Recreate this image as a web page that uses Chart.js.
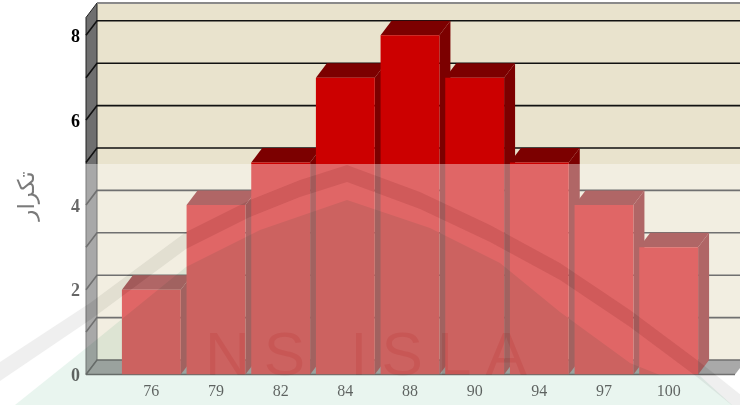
<!DOCTYPE html>
<html>
<head>
<meta charset="utf-8">
<script src="https://cdn.jsdelivr.net/npm/chart.js@4/dist/chart.umd.js"></script>
<style>
  html, body { margin: 0; padding: 0; background: #fff; }
  canvas { display: block; }
</style>
</head>
<body>
<canvas id="chart" width="740" height="405"></canvas>
<script>
const categories = ['76', '79', '82', '84', '88', '90', '94', '97', '100'];
const frequency = [2, 4, 5, 7, 8, 7, 5, 4, 3];
const yTicks = [0, 2, 4, 6, 8];
const yGridLines = [1, 2, 3, 4, 5, 6, 7, 8];
const yTitle = 'تكرار';

// depth of the fake 3d box
const dx = 11;
const dy = 14.5;
const boxLeft = 86;
const boxRight = 735;

function poly(ctx, pts, fill, stroke, lw) {
    ctx.beginPath();
    pts.forEach((p, i) => i ? ctx.lineTo(p[0], p[1]) : ctx.moveTo(p[0], p[1]));
    ctx.closePath();
    if (fill) { ctx.fillStyle = fill; ctx.fill(); }
    if (stroke) { ctx.strokeStyle = stroke; ctx.lineWidth = lw || 1; ctx.stroke(); }
}

// walls, floor, grid and the side/top faces of the bars
const box3d = {
    id: 'box3d',
    beforeDraw(chart) {
        // multiply below needs an opaque page under it
        chart.ctx.fillStyle = '#fff';
        chart.ctx.fillRect(0, 0, chart.width, chart.height);
    },
    beforeDatasetsDraw(chart) {
        const ctx = chart.ctx;
        const y = chart.scales.y;
        const base = y.getPixelForValue(0);
        const top = chart.chartArea.top;
        ctx.save();
        poly(ctx, [[boxLeft + dx, top - dy], [760, top - dy], [760, base - dy], [boxLeft + dx, base - dy]], '#e9e3cd');
        poly(ctx, [[boxLeft, top], [boxLeft + dx, top - dy], [boxLeft + dx, base - dy], [boxLeft, base]], '#6f6f6f', '#222', 1);
        poly(ctx, [[boxLeft, base], [boxLeft + dx, base - dy], [boxRight + dx, base - dy], [boxRight, base]], '#707070');

        ctx.strokeStyle = '#8a8a8a';
        ctx.lineWidth = 2;
        ctx.beginPath();
        ctx.moveTo(boxLeft + dx, top - dy);
        ctx.lineTo(760, top - dy);
        ctx.stroke();

        ctx.strokeStyle = '#111';
        ctx.lineWidth = 1.6;
        yGridLines.forEach(v => {
            const py = y.getPixelForValue(v);
            ctx.beginPath();
            ctx.moveTo(boxLeft, py);
            ctx.lineTo(boxLeft + dx, py - dy);
            ctx.lineTo(760, py - dy);
            ctx.stroke();
        });
        ctx.beginPath();
        ctx.moveTo(boxLeft, base);
        ctx.lineTo(boxLeft + dx, base - dy);
        ctx.lineTo(760, base - dy);
        ctx.stroke();
        ctx.beginPath();
        ctx.moveTo(boxLeft, base);
        ctx.lineTo(boxRight, base);
        ctx.stroke();

        chart.getDatasetMeta(0).data.forEach(bar => {
            const l = bar.x - bar.width / 2;
            const r = bar.x + bar.width / 2;
            poly(ctx, [[r, bar.y], [r + dx, bar.y - dy], [r + dx, base - dy], [r, base]], '#7c0000');
            poly(ctx, [[l, bar.y], [l + dx, bar.y - dy], [r + dx, bar.y - dy], [r, bar.y]], '#7c0000');
        });
        ctx.restore();
    }
};

// the page watermark that sits over the lower part of the picture
const watermark = {
    id: 'watermark',
    afterDraw(chart) {
        const ctx = chart.ctx;
        ctx.save();
        ctx.fillStyle = 'rgba(255,255,255,0.4)';
        ctx.fillRect(0, 164, 740, 241);

        const band = [[0, 362], [90, 303], [186, 232], [250, 200], [300, 180], [347, 165], [420, 192], [490, 225],
                      [560, 263], [630, 310], [697, 360], [760, 410], [760, 428], [697, 377], [630, 327], [560, 280],
                      [490, 242], [420, 209], [347, 182], [300, 197], [250, 217], [186, 249], [90, 320], [0, 381]];
        ctx.globalCompositeOperation = 'multiply';
        poly(ctx, band, 'rgb(240,240,240)');
        ctx.globalCompositeOperation = 'color-burn';
        poly(ctx, band, 'rgb(246,246,246)');

        ctx.globalCompositeOperation = 'multiply';
        poly(ctx, [[15, 405], [90, 345], [186, 267], [260, 230], [347, 200], [430, 228], [500, 263], [560, 312],
                   [630, 363], [660, 375], [700, 376], [732, 405]], 'rgb(233,245,239)');

        ctx.fillStyle = 'rgb(250,226,226)';
        ctx.font = '62px "Liberation Sans"';
        ctx.letterSpacing = '14px';
        ctx.textBaseline = 'alphabetic';
        ctx.fillText('NS ISLA', 205, 375);
        ctx.restore();
    }
};

new Chart(document.getElementById('chart'), {
    type: 'bar',
    data: {
        labels: categories,
        datasets: [{
            data: frequency,
            backgroundColor: '#cc0000',
            borderWidth: 0,
            categoryPercentage: 1,
            barPercentage: 0.91
        }]
    },
    plugins: [box3d, watermark],
    options: {
        responsive: false,
        animation: false,
        layout: { padding: { top: 17.5, right: 39 } },
        plugins: { legend: { display: false }, tooltip: { enabled: false } },
        scales: {
            x: {
                grid: { display: false },
                border: { display: false },
                afterFit(scale) { scale.height = 30.5; scale.paddingLeft = 0; scale.paddingRight = 0; },
                ticks: {
                    padding: 0,
                    maxRotation: 0,
                    color: '#000',
                    font: { family: '"Liberation Serif"', size: 16 }
                }
            },
            y: {
                min: 0,
                max: 8.42,
                grid: { display: false, drawTicks: false },
                border: { display: false },
                afterFit(scale) { scale.width = 119; scale.paddingTop = 0; scale.paddingBottom = 0; },
                afterBuildTicks(scale) { scale.ticks = yTicks.map(v => ({ value: v })); },
                title: {
                    display: true,
                    text: yTitle,
                    color: '#222',
                    padding: { top: 14, bottom: 0 },
                    font: { family: '"DejaVu Sans"', size: 23 }
                },
                ticks: {
                    padding: 39,
                    labelOffset: 2,
                    color: '#000',
                    font: { family: '"Liberation Serif"', size: 18, weight: 'bold' }
                }
            }
        }
    }
});
</script>
</body>
</html>
